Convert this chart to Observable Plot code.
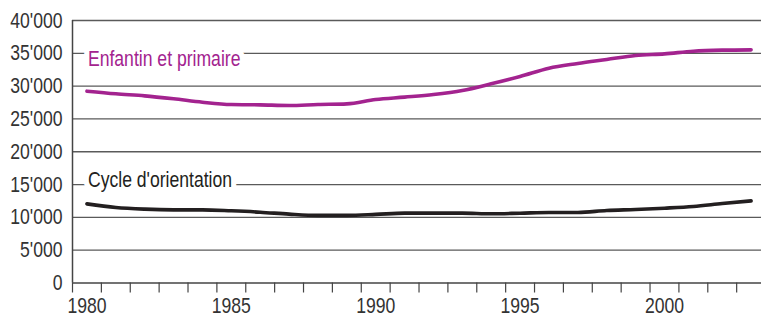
<!DOCTYPE html>
<html>
<head>
<meta charset="utf-8">
<script src="https://cdn.jsdelivr.net/npm/d3@7"></script>
<script src="https://cdn.jsdelivr.net/npm/@observablehq/plot@0.6"></script>
<style>
  html, body { margin: 0; padding: 0; background: #fff; }
  #chart svg { display: block; }
</style>
</head>
<body>
<div id="chart"></div>
<script>
const years = d3.range(1980, 2004);
const enfantinPrimaire = [29230, 28830, 28520, 28070, 27550, 27200, 27150, 27050, 27200, 27300,
  27960, 28320, 28720, 29330, 30350, 31470, 32740, 33450, 34060, 34670, 34920, 35320, 35480, 35530];
const cycleOrientation = [12060, 11500, 11250, 11150, 11150, 11000, 10790, 10490, 10300, 10300,
  10450, 10650, 10650, 10650, 10550, 10640, 10750, 10750, 11050, 11200, 11400, 11660, 12110, 12520];
const yTicks = d3.range(0, 40001, 5000);
const xLabelTicks = [1980, 1985, 1990, 1995, 2000];
const seriesLabels = [
  {name: "Enfantin et primaire", year: 1980, value: 35000, color: "#a3238f", shift: 5.3},
  {name: "Cycle d'orientation", year: 1980, value: 15000, color: "#231f20", shift: -4.4}
];
const colors = {"Enfantin et primaire": "#a3238f", "Cycle d'orientation": "#231f20"};

const rows = [];
years.forEach((y, i) => {
  rows.push({year: y, value: enfantinPrimaire[i], series: "Enfantin et primaire"});
  rows.push({year: y, value: cycleOrientation[i], series: "Cycle d'orientation"});
});

const fmt = d => d3.format(",")(d).replace(/,/g, "'");
const font = "'Liberation Sans', Arial, sans-serif";

const labelMarks = seriesLabels.map(s => Plot.text([s], {
  x: "year", y: "value", text: "name", fill: "color",
  textAnchor: "start", lineAnchor: "middle", dx: 1, dy: s.shift,
  stroke: "white", strokeWidth: 13, fontSize: 22
}));

const chart = Plot.plot({
  width: 762,
  height: 318,
  marginLeft: 72,
  marginRight: 1,
  marginTop: 20,
  marginBottom: 35.5,
  style: {fontFamily: font, fontSize: "22px", color: "#333", background: "#fff"},
  x: {type: "linear", domain: [1979.5, 2003.36]},
  y: {domain: [0, 40000]},
  marks: [
    Plot.ruleY(yTicks.filter(d => d > 0), {stroke: "#5a5a5a", strokeWidth: 1.3}),
    ...labelMarks,
    Plot.line(rows, {x: "year", y: "value", z: "series", stroke: d => colors[d.series], strokeWidth: 3.6, curve: "monotone-x"}),
    Plot.ruleX([1979.5], {stroke: "#444", strokeWidth: 1.5}),
    Plot.ruleY([0], {stroke: "#444", strokeWidth: 1.5}),
    Plot.axisY(yTicks, {tickSize: 0, tickPadding: 10, tickFormat: fmt, fontSize: 22, fill: "#333", label: null}),
    Plot.axisX(years.map(y => y - 0.5), {tickSize: 10, stroke: "#444", strokeWidth: 1.2, tickFormat: () => "", label: null}),
    Plot.axisX(xLabelTicks, {tickSize: 0, tickPadding: 14, tickFormat: d => String(d), fontSize: 22, fill: "#333", label: null})
  ]
});
document.getElementById("chart").appendChild(chart);

// condense text horizontally around its anchor to mimic a condensed typeface
const squeeze = 0.8;
chart.querySelectorAll("text").forEach(t => {
  if (!t.textContent) return;
  const b = t.getBBox();
  const anchor = getComputedStyle(t).textAnchor;
  const ax = anchor === "end" ? b.x + b.width : anchor === "middle" ? b.x + b.width / 2 : b.x;
  const prev = t.getAttribute("transform") || "";
  t.setAttribute("transform", `${prev} translate(${ax},0) scale(${squeeze},1) translate(${-ax},0)`);
});
</script>
</body>
</html>
